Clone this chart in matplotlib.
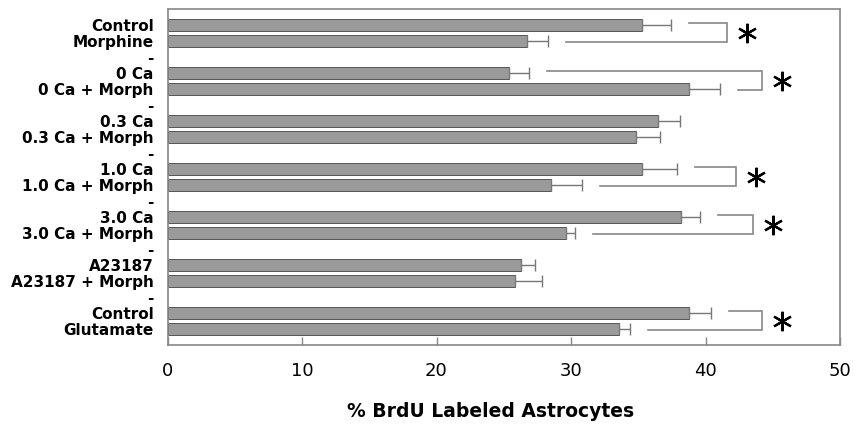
import matplotlib
matplotlib.use("Agg")
import matplotlib.pyplot as plt
import numpy as np

# ---- data ----
groups = [
    ("Control", "Morphine"),
    ("0 Ca", "0 Ca + Morph"),
    ("0.3 Ca", "0.3 Ca + Morph"),
    ("1.0 Ca", "1.0 Ca + Morph"),
    ("3.0 Ca", "3.0 Ca + Morph"),
    ("A23187", "A23187 + Morph"),
    ("Control", "Glutamate"),
]
values = [35.25, 26.7, 25.4, 38.75, 36.45, 34.8, 35.25, 28.5,
          38.2, 29.6, 26.25, 25.8, 38.8, 33.6]
errors = [2.15, 1.6, 1.5, 2.35, 1.65, 1.8, 2.65, 2.3,
          1.4, 0.7, 1.05, 2.05, 1.6, 0.8]
sig_groups = [0, 1, 3, 4, 6]
sig_bracket_x = [41.6, 44.2, 42.25, 43.55, 44.2]
xticks = [0, 10, 20, 30, 40, 50]
xlabel = "% BrdU Labeled Astrocytes"

# ---- layout of categorical slots ----
tick_labels = []
bar_pos = []
slot = 0
for gi, (a, b) in enumerate(groups):
    if gi > 0:
        tick_labels.append("-")
        slot += 1
    tick_labels.append(a); bar_pos.append(slot); slot += 1
    tick_labels.append(b); bar_pos.append(slot); slot += 1
bar_pos = np.array(bar_pos)
values = np.array(values)
errors = np.array(errors)

fig = plt.figure(figsize=(8.56, 4.24), dpi=100)
ax = fig.add_axes([167.5/856, 1-345/424, (840-167.5)/856, 336/424])

grey = "#888888"
ax.barh(bar_pos, values, height=0.69, color="#9a9a9a", edgecolor="#555555",
        linewidth=0.7, zorder=2)
ax.errorbar(values, bar_pos, xerr=[np.zeros_like(errors), errors], fmt="none",
            ecolor="#777777", elinewidth=1.0, capsize=4, capthick=1.0, zorder=3)

# significance brackets
for gi, bx in zip(sig_groups, sig_bracket_x):
    i0, i1 = 2*gi, 2*gi + 1
    y0, y1 = bar_pos[i0] - 0.1, bar_pos[i1] + 0.07
    s0 = values[i0] + errors[i0] + 1.35
    s1 = values[i1] + errors[i1] + 1.35
    ax.plot([s0, bx, bx, s1], [y0, y0, y1, y1], color=grey, lw=1.2,
            solid_joinstyle="miter", zorder=3)
    ax.plot([bx + 1.5], [(y0 + y1)/2], marker=(6, 2, 0), markersize=14,
            mew=1.6, color="black", linestyle="none", zorder=4)

ax.set_xlim(0, 50)
ax.set_ylim(20, -1)
ax.set_yticks(np.arange(len(tick_labels)))
ax.set_yticklabels(tick_labels, fontsize=11, fontweight="bold", family="DejaVu Sans")
ax.tick_params(axis="y", length=0, pad=10)
ax.set_xticks(xticks)
ax.set_xticklabels([str(t) for t in xticks], fontsize=13, family="DejaVu Sans")
ax.tick_params(axis="x", direction="in", length=6, width=1, color=grey, pad=12)
for s in ax.spines.values():
    s.set_color(grey)
    s.set_linewidth(1.2)
ax.set_xlabel(xlabel, fontsize=13.5, fontweight="bold", family="DejaVu Sans")
ax.xaxis.set_label_coords(0.48, -0.17)

fig.savefig("out.png", dpi=100)
